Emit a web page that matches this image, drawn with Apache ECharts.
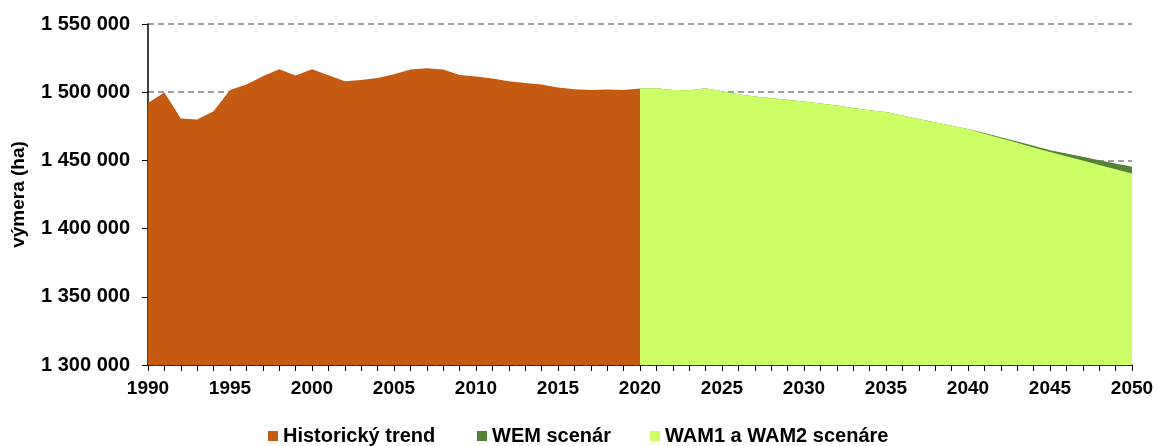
<!DOCTYPE html>
<html>
<head>
<meta charset="utf-8">
<script src="https://cdn.jsdelivr.net/npm/echarts@6/dist/echarts.min.js"></script>
<style>
  html, body { margin: 0; padding: 0; background: #fff; }
  #chart { width: 1157px; height: 446px; }
</style>
</head>
<body>
<div id="chart"></div>
<script>
// roky a hodnoty (ha), odčítané z grafu
const histYears = [1990, 1991, 1992, 1993, 1994, 1995, 1996, 1997, 1998, 1999, 2000,
  2001, 2002, 2003, 2004, 2005, 2006, 2007, 2008, 2009, 2010,
  2011, 2012, 2013, 2014, 2015, 2016, 2017, 2018, 2019, 2020]
const histValues = [1492000, 1499800, 1480700, 1480000, 1486000, 1501700, 1505600, 1511700, 1516900, 1512200, 1516900,
  1512400, 1508000, 1509000, 1510500, 1513200, 1516600, 1517600, 1516600, 1512700, 1511500,
  1510000, 1508000, 1506800, 1505600, 1503400, 1502200, 1501700, 1502000, 1501700, 1502700]

const scenYears = [2020, 2021, 2022, 2023, 2024, 2025, 2026, 2027, 2028, 2029, 2030,
  2031, 2032, 2033, 2034, 2035, 2036, 2037, 2038, 2039, 2040,
  2041, 2042, 2043, 2044, 2045, 2046, 2047, 2048, 2049, 2050]
const wemValues = [1502700, 1502900, 1501700, 1501500, 1502900, 1500700, 1498500, 1496800, 1495600, 1494400, 1493200,
  1491700, 1490200, 1488500, 1486800, 1485400, 1483000, 1480400, 1477900, 1475400, 1473000,
  1470000, 1467000, 1463900, 1460700, 1457500, 1455100, 1452600, 1450200, 1447700, 1445300]
const wamValues = [1502700, 1502900, 1501700, 1501500, 1502900, 1500700, 1498500, 1496800, 1495600, 1494400, 1493200,
  1491700, 1490200, 1488500, 1486800, 1485400, 1483000, 1480400, 1477900, 1475400, 1473000,
  1469600, 1466200, 1462900, 1459500, 1456200, 1453000, 1449900, 1446700, 1443500, 1440400]

const seriesNames = ['Historický trend', 'WEM scenár', 'WAM1 a WAM2 scenáre']
const font = 'Liberation Sans, Arial, sans-serif'

function pairs(xs, ys) {
  return xs.map((x, i) => [x, ys[i]])
}

function areaSeries(name, color, data) {
  return {
    name: name,
    type: 'line',
    data: data,
    color: color,
    showSymbol: false,
    lineStyle: { width: 0 },
    areaStyle: { color: color, opacity: 1, origin: 'start' },
    silent: true
  }
}

const legendText = { fontFamily: font, fontWeight: 'bold', fontSize: 20, color: '#000' }
function legendAt(name, left) {
  return {
    data: [name], left: left, top: 426, padding: 0,
    itemWidth: 10, itemHeight: 10, icon: 'rect',
    textStyle: legendText, selectedMode: false
  }
}

const chart = echarts.init(document.getElementById('chart'))
chart.setOption({
  animation: false,
  grid: { left: 148, right: 25, top: 24, bottom: 81 },
  legend: [
    legendAt(seriesNames[0], 268),
    legendAt(seriesNames[1], 477),
    legendAt(seriesNames[2], 650)
  ],
  xAxis: {
    type: 'value',
    min: 1990, max: 2050, interval: 5,
    axisLine: { show: true, lineStyle: { color: '#000', width: 1.5 } },
    axisTick: { show: true, length: 6, lineStyle: { color: '#000' } },
    minorTick: { show: true, splitNumber: 5, length: 6, lineStyle: { color: '#000' } },
    splitLine: { show: false },
    axisLabel: {
      margin: 14, fontFamily: font, fontWeight: 'bold', fontSize: 19, color: '#000',
      formatter: v => String(v)
    }
  },
  yAxis: {
    type: 'value',
    min: 1300000, max: 1550000, interval: 50000,
    name: 'výmera (ha)',
    nameLocation: 'middle',
    nameGap: 120,
    nameTextStyle: { fontFamily: font, fontWeight: 'bold', fontSize: 19, color: '#000' },
    axisLine: { show: true, lineStyle: { color: '#000', width: 1.5 } },
    axisTick: { show: true, length: 6, lineStyle: { color: '#000' } },
    splitLine: { show: true, lineStyle: { color: '#808080', type: [6, 4], width: 1.5 } },
    axisLabel: {
      margin: 18, fontFamily: font, fontWeight: 'bold', fontSize: 20, color: '#000',
      formatter: v => String(v).replace(/\B(?=(\d{3})+(?!\d))/g, ' ')
    }
  },
  series: [
    areaSeries(seriesNames[0], '#c55a11', pairs(histYears, histValues)),
    areaSeries(seriesNames[1], '#548235', pairs(scenYears, wemValues)),
    areaSeries(seriesNames[2], '#ccff66', pairs(scenYears, wamValues))
  ]
})
</script>
</body>
</html>
